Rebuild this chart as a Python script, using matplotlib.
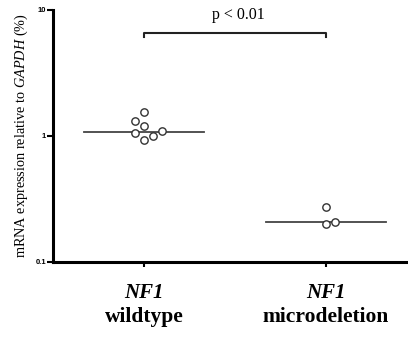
import matplotlib
matplotlib.use("Agg")
import matplotlib.pyplot as plt
import numpy as np

plt.rcParams["mathtext.fontset"] = "custom"
plt.rcParams["mathtext.rm"] = "Liberation Serif"
plt.rcParams["mathtext.it"] = "Liberation Serif:italic"
plt.rcParams["mathtext.bf"] = "Liberation Serif:bold"

# data
groups = ["wildtype", "microdeletion"]
wildtype_vals = [1.55, 1.31, 1.20, 1.06, 0.93, 1.00, 1.09]
wildtype_dx = [0.0, -0.05, 0.0, -0.05, 0.0, 0.05, 0.10]
microdel_vals = [0.275, 0.199, 0.207]
microdel_dx = [0.0, 0.0, 0.05]
medians = [1.08, 0.207]
p_text = "p < 0.01"
bracket_y = 6.6

fig = plt.figure(figsize=(4.08, 3.41), dpi=100)
ax = fig.add_axes([0.130, 0.232, 0.87, 0.739])

ax.set_yscale("log")
ax.set_ylim(0.1, 10)
ax.set_xlim(-0.5, 1.45)

# median lines
for i, m in enumerate(medians):
    ax.plot([i - 0.33, i + 0.33], [m, m], color="#444444", lw=1.3, zorder=2)

# points
for i, (vals, dx) in enumerate([(wildtype_vals, wildtype_dx), (microdel_vals, microdel_dx)]):
    xs = [i + d for d in dx]
    ax.plot(xs, vals, "o", ms=5.3, mfc="white", mec="#333333", mew=1.0, zorder=3)

# significance bracket
ax.plot([0, 0, 1, 1], [bracket_y * 0.93, bracket_y, bracket_y, bracket_y * 0.93],
        color="#222222", lw=1.5, clip_on=False)
ax.text(0.52, bracket_y * 1.2, p_text, ha="center", va="bottom",
        fontsize=11.5, family="Liberation Serif")

# axes styling
for s in ["top", "right"]:
    ax.spines[s].set_visible(False)
for s in ["left", "bottom"]:
    ax.spines[s].set_linewidth(2.2)

ax.set_yticks([0.1, 1, 10])
ax.set_yticklabels(["0.1", "1", "10"], fontsize=5.5, fontweight="bold", family="Liberation Sans")
ax.yaxis.set_minor_locator(matplotlib.ticker.NullLocator())
ax.tick_params(axis="y", length=4, width=1.5, pad=1)

ax.set_xticks([0, 1])
ax.set_xticklabels(["", ""])
ax.tick_params(axis="x", length=3.5, width=1.5)

for i, g in enumerate(groups):
    ax.text(i, 0.1 * 10 ** (-0.25), "NF1", ha="center", va="center", fontsize=15,
            family="Liberation Serif", fontweight="bold", style="italic",
            transform=ax.transData, clip_on=False)
    ax.text(i, 0.1 * 10 ** (-0.44), g, ha="center", va="center", fontsize=15.5,
            family="Liberation Serif", fontweight="bold",
            transform=ax.transData, clip_on=False)

ax.set_ylabel(r"mRNA expression relative to $\mathit{GAPDH}$ (%)",
              fontsize=10.3, family="Liberation Serif", labelpad=4)

fig.savefig("out.png", dpi=100)
